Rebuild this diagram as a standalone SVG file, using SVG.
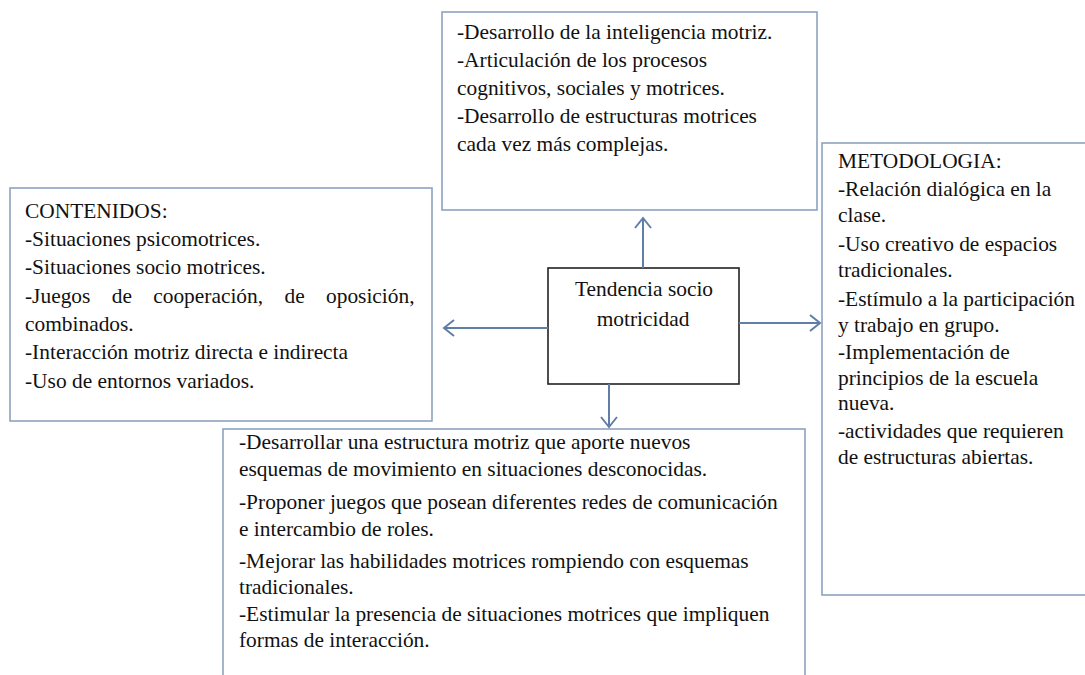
<svg xmlns="http://www.w3.org/2000/svg" width="1085" height="675" viewBox="0 0 1085 675">
<defs>
<style>
.box{fill:#ffffff;stroke:#8ea3bf;stroke-width:1.6}
.cbox{fill:#ffffff;stroke:#222222;stroke-width:1.6}
text{font-family:'Liberation Serif','Times New Roman',serif;font-size:21.4px;fill:#111111}
.conn{stroke:#5f7ea8;stroke-width:2;fill:none}
</style>
<marker id="arr" markerUnits="userSpaceOnUse" markerWidth="14" markerHeight="18" viewBox="0 0 14 18" refX="12" refY="9" orient="auto">
<path d="M2,1 L12,9 L2,17" fill="none" stroke="#5f7ea8" stroke-width="2"/>
</marker>
</defs>
<rect width="1085" height="675" fill="#ffffff"/>
<g id="top-box">
<rect class="box" x="442" y="12" width="375" height="198"/>
<text x="457" y="39">-Desarrollo de la inteligencia motriz.</text>
<text x="457" y="67">-Articulación de los procesos</text>
<text x="457" y="95">cognitivos, sociales y motrices.</text>
<text x="457" y="123">-Desarrollo de estructuras motrices</text>
<text x="457" y="151">cada vez más complejas.</text>
</g>
<g id="left-box">
<rect class="box" x="10" y="188" width="422" height="233"/>
<text x="25" y="218">CONTENIDOS:</text>
<text x="25" y="246">-Situaciones psicomotrices.</text>
<text x="25" y="274">-Situaciones socio motrices.</text>
<text x="25" y="303" word-spacing="16">-Juegos de cooperación, de oposición,</text>
<text x="25" y="331">combinados.</text>
<text x="25" y="359">-Interacción motriz directa e indirecta</text>
<text x="25" y="388">-Uso de entornos variados.</text>
</g>
<g id="center-box">
<rect class="cbox" x="548" y="268" width="191" height="116"/>
<text x="644" y="296" text-anchor="middle">Tendencia socio</text>
<text x="643" y="326" text-anchor="middle">motricidad</text>
</g>
<g id="right-box">
<rect class="box" x="822" y="143" width="270" height="452"/>
<text x="838" y="168">METODOLOGIA:</text>
<text x="838" y="196">-Relación dialógica en la</text>
<text x="838" y="222">clase.</text>
<text x="838" y="251">-Uso creativo de espacios</text>
<text x="838" y="277">tradicionales.</text>
<text x="838" y="306">-Estímulo a la participación</text>
<text x="838" y="332">y trabajo en grupo.</text>
<text x="838" y="359">-Implementación de</text>
<text x="838" y="385">principios de la escuela</text>
<text x="838" y="410">nueva.</text>
<text x="838" y="438">-actividades que requieren</text>
<text x="838" y="464">de estructuras abiertas.</text>
</g>
<g id="bottom-box">
<rect class="box" x="223" y="429" width="582" height="260"/>
<text x="239" y="449">-Desarrollar una estructura motriz que aporte nuevos</text>
<text x="239" y="476">esquemas de movimiento en situaciones desconocidas.</text>
<text x="239" y="509">-Proponer juegos que posean diferentes redes de comunicación</text>
<text x="239" y="536">e intercambio de roles.</text>
<text x="239" y="568">-Mejorar las habilidades motrices rompiendo con esquemas</text>
<text x="239" y="594">tradicionales.</text>
<text x="239" y="621">-Estimular la presencia de situaciones motrices que impliquen</text>
<text x="239" y="647">formas de interacción.</text>
</g>
<g id="connectors">
<line class="conn" x1="643" y1="268" x2="643" y2="218" marker-end="url(#arr)"/>
<line class="conn" x1="548" y1="328" x2="444" y2="328" marker-end="url(#arr)"/>
<line class="conn" x1="739" y1="323" x2="820" y2="323" marker-end="url(#arr)"/>
<line class="conn" x1="609" y1="384" x2="609" y2="427" marker-end="url(#arr)"/>
</g>
</svg>
